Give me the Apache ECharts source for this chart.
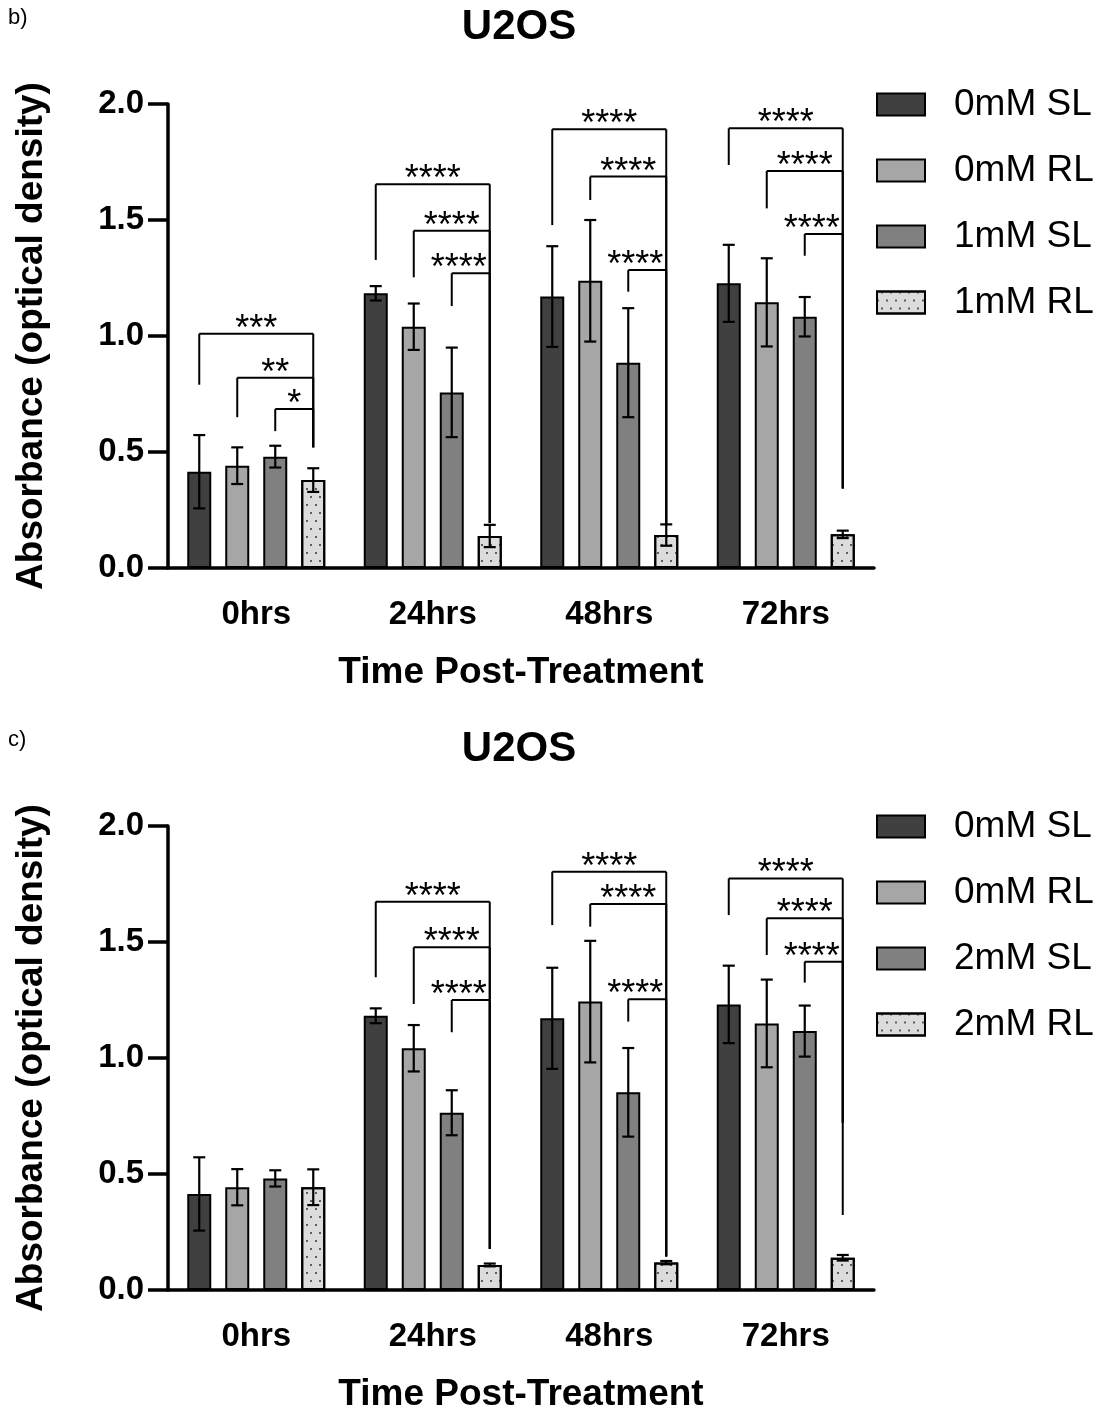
<!DOCTYPE html>
<html><head><meta charset="utf-8">
<script src="https://cdn.jsdelivr.net/npm/echarts@6/dist/echarts.min.js"></script>
<style>html,body{margin:0;padding:0;background:#fff;overflow:hidden}#c{width:1100px;height:1407px}</style>
</head><body><div id="c"></div>
<script>
// ---------------- data ----------------
const categories = ['0hrs', '24hrs', '48hrs', '72hrs'];
const yMin = 0, yMax = 2.0, yInterval = 0.5;

// panel b)
const namesB = ['0mM SL', '0mM RL', '1mM SL', '1mM RL'];
const b_0mM_SL     = [0.415, 1.184, 1.170, 1.227];
const b_0mM_SL_err = [0.158, 0.031, 0.217, 0.166];
const b_0mM_RL     = [0.441, 1.040, 1.238, 1.145];
const b_0mM_RL_err = [0.079, 0.100, 0.262, 0.190];
const b_1mM_SL     = [0.480, 0.757, 0.885, 1.083];
const b_1mM_SL_err = [0.047, 0.193, 0.235, 0.085];
const b_1mM_RL     = [0.379, 0.138, 0.142, 0.145];
const b_1mM_RL_err = [0.051, 0.048, 0.046, 0.016];
// significance brackets: [category, from bar, bracket y, from-leg bottom, to-leg bottom] (to bar = 4th)
const b_brackets = [
  [0, 0, 1.010, 0.790, 0.520], [0, 1, 0.820, 0.650, 0.520], [0, 2, 0.685, 0.590, 0.520],
  [1, 0, 1.654, 1.328, 0.194], [1, 1, 1.454, 1.253, 0.194], [1, 2, 1.270, 1.129, 0.194],
  [2, 0, 1.891, 1.478, 0.185], [2, 1, 1.687, 1.586, 0.185], [2, 2, 1.284, 1.191, 0.185],
  [3, 0, 1.895, 1.737, 0.343], [3, 1, 1.711, 1.550, 0.343], [3, 2, 1.440, 1.346, 0.343]
];
const b_bracketLabels = ['***', '**', '*', '****', '****', '****', '****', '****', '****', '****', '****', '****'];

// panel c)
const namesC = ['0mM SL', '0mM RL', '2mM SL', '2mM RL'];
const c_0mM_SL     = [0.414, 1.182, 1.171, 1.231];
const c_0mM_SL_err = [0.158, 0.032, 0.218, 0.167];
const c_0mM_RL     = [0.443, 1.042, 1.243, 1.149];
const c_0mM_RL_err = [0.078, 0.100, 0.262, 0.189];
const c_2mM_SL     = [0.481, 0.764, 0.852, 1.116];
const c_2mM_SL_err = [0.035, 0.097, 0.191, 0.110];
const c_2mM_RL     = [0.443, 0.108, 0.118, 0.139];
const c_2mM_RL_err = [0.077, 0.006, 0.007, 0.012];
const c_brackets = [
  [1, 0, 1.674, 1.348, 0.177], [1, 1, 1.477, 1.233, 0.177], [1, 2, 1.250, 1.111, 0.177],
  [2, 0, 1.803, 1.573, 0.144], [2, 1, 1.664, 1.566, 0.144], [2, 2, 1.253, 1.157, 0.144],
  [3, 0, 1.774, 1.616, 0.323], [3, 1, 1.602, 1.444, 0.720], [3, 2, 1.415, 1.325, 0.720]
];
const c_bracketLabels = ['****', '****', '****', '****', '****', '****', '****', '****', '****'];

// ---------------- style ----------------
const FONT = '"Liberation Sans", Arial, Helvetica, sans-serif';
const COLORS = ['#404040', '#a6a6a6', '#808080', '#dcdcdc'];
const BAR_W = 24, GAP_PX = 14;
const STEP = BAR_W + GAP_PX;
const panels = [
  { top: 104, height: 464, names: namesB,
    means: [b_0mM_SL, b_0mM_RL, b_1mM_SL, b_1mM_RL],
    errs: [b_0mM_SL_err, b_0mM_RL_err, b_1mM_SL_err, b_1mM_RL_err],
    brackets: b_brackets, labels: b_bracketLabels, tag: 'b)' },
  { top: 826, height: 464, names: namesC,
    means: [c_0mM_SL, c_0mM_RL, c_2mM_SL, c_2mM_RL],
    errs: [c_0mM_SL_err, c_0mM_RL_err, c_2mM_SL_err, c_2mM_RL_err],
    brackets: c_brackets, labels: c_bracketLabels, tag: 'c)' }
];

const measureCtx = document.createElement('canvas').getContext('2d');
const STAR_FONT = '36px ' + FONT;
function textW(t) { measureCtx.font = STAR_FONT; return measureCtx.measureText(t).width; }

const grid = [], xAxis = [], yAxis = [], series = [], legend = [], graphic = [];
panels.forEach((p, k) => {
  grid.push({ left: 168, width: 706, top: p.top, height: p.height, containLabel: false,
              outerBoundsMode: 'none' });
  xAxis.push({
    type: 'category', gridIndex: k, data: categories,
    axisLine: { lineStyle: { color: '#000', width: 3.5 } },
    axisTick: { alignWithLabel: true, length: 10, lineStyle: { color: '#000', width: 3.5 } },
    axisLabel: { color: '#000', fontFamily: FONT, fontWeight: 'bold', fontSize: 33, margin: 30 },
    name: 'Time Post-Treatment', nameLocation: 'middle', nameGap: 86,
    nameTextStyle: { color: '#000', fontFamily: FONT, fontWeight: 'bold', fontSize: 37 }
  });
  yAxis.push({
    type: 'value', gridIndex: k, min: yMin, max: yMax, interval: yInterval,
    splitLine: { show: false },
    axisLine: { show: true, lineStyle: { color: '#000', width: 3.5 } },
    axisTick: { show: true, length: 20, lineStyle: { color: '#000', width: 3.5 } },
    axisLabel: { color: '#000', fontFamily: FONT, fontWeight: 'bold', fontSize: 33, margin: 24,
                 formatter: v => v.toFixed(1) },
    name: 'Absorbance (optical density)', nameLocation: 'middle', nameGap: 118,
    nameTextStyle: { color: '#000', fontFamily: FONT, fontWeight: 'bold', fontSize: 37 }
  });
  p.names.forEach((nm, i) => {
    const itemStyle = { color: COLORS[i], borderColor: '#000', borderWidth: 2 };
    if (i === 3) itemStyle.decal = { symbol: 'circle', symbolSize: 1, color: '#333',
                                     dashArrayX: [[2, 7], [0, 4, 2, 3]], dashArrayY: [2, 6] };
    series.push({
      type: 'bar', name: nm, xAxisIndex: k, yAxisIndex: k,
      data: p.means[i], barWidth: BAR_W, barGap: (GAP_PX / BAR_W * 100) + '%',
      itemStyle, emphasis: { disabled: true }, silent: true, z: 2
    });
  });
  // error bars
  const errData = [];
  p.names.forEach((nm, i) => categories.forEach((c, j) => errData.push([j, i, p.means[i][j], p.errs[i][j]])));
  series.push({
    type: 'custom', xAxisIndex: k, yAxisIndex: k, z: 5, silent: true,
    encode: { x: 0, y: 2 }, data: errData,
    renderItem: (params, api) => {
      const j = api.value(0), i = api.value(1), m = api.value(2), e = api.value(3);
      const x = api.coord([j, m])[0] + (i - 1.5) * STEP;
      const yT = api.coord([j, m + e])[1], yB = api.coord([j, m - e])[1];
      const st = { stroke: '#000', lineWidth: 2.2 };
      return { type: 'group', children: [
        { type: 'line', shape: { x1: x, y1: yT, x2: x, y2: yB }, style: st },
        { type: 'line', shape: { x1: x - 6, y1: yT, x2: x + 6, y2: yT }, style: st },
        { type: 'line', shape: { x1: x - 6, y1: yB, x2: x + 6, y2: yB }, style: st }
      ] };
    }
  });
  // significance brackets
  const labels = p.labels;
  series.push({
    type: 'custom', xAxisIndex: k, yAxisIndex: k, z: 6, silent: true, clip: false,
    encode: { x: 0, y: 2 }, data: p.brackets,
    renderItem: (params, api) => {
      const j = api.value(0), from = api.value(1), ly = api.value(2), lb = api.value(3), rb = api.value(4);
      const cx = api.coord([j, ly])[0];
      const x1 = cx + (from - 1.5) * STEP, x2 = cx + 1.5 * STEP;
      const y = api.coord([j, ly])[1], y1 = api.coord([j, lb])[1], y2 = api.coord([j, rb])[1];
      const st = { stroke: '#000', lineWidth: 2 };
      const lab = labels[params.dataIndex];
      const w = textW(lab);
      const tx = Math.min((x1 + x2) / 2, x2 - 3 - w / 2);
      return { type: 'group', children: [
        { type: 'line', shape: { x1: x1, y1: y1, x2: x1, y2: y }, style: st },
        { type: 'line', shape: { x1: x1, y1: y, x2: x2, y2: y }, style: st },
        { type: 'line', shape: { x1: x2, y1: y, x2: x2, y2: y2 }, style: st },
        { type: 'text', x: tx, y: y - 4, style: { text: lab, font: STAR_FONT, fill: '#000',
            align: 'center', verticalAlign: 'middle' } }
      ] };
    }
  });
  legend.push({
    data: p.names, orient: 'vertical', left: 876, top: p.top - 18, padding: 0,
    itemWidth: 48, itemHeight: 22, itemGap: 29, icon: 'rect', selectedMode: false,
    textStyle: { color: '#000', fontFamily: FONT, fontSize: 37, lineHeight: 36, padding: [0, 0, 0, 24] }
  });
  graphic.push({ type: 'text', x: 519, y: p.top - 77, style: { text: 'U2OS', font: 'bold 42px ' + FONT,
    fill: '#000', align: 'center', verticalAlign: 'middle' } });
  graphic.push({ type: 'text', x: 8, y: p.top - 86, style: { text: p.tag, font: '22px ' + FONT,
    fill: '#000', align: 'left', verticalAlign: 'middle' } });
});

const chart = echarts.init(document.getElementById('c'), null, { renderer: 'canvas' });
chart.setOption({
  backgroundColor: '#fff', animation: false,
  grid, xAxis, yAxis, series, legend, graphic
});
</script></body></html>
